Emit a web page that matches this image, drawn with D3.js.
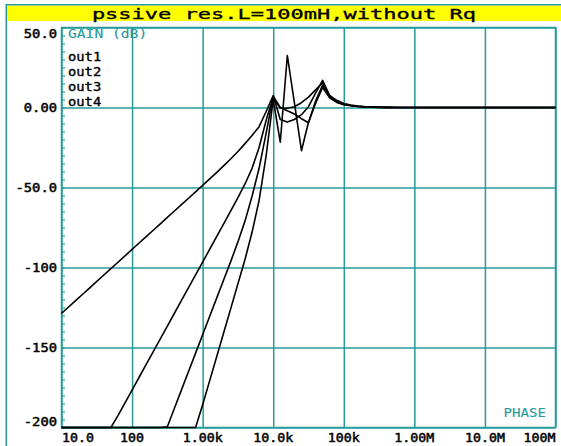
<!DOCTYPE html>
<html>
<head>
<meta charset="utf-8">
<script src="https://cdn.jsdelivr.net/npm/d3@7"></script>
<style>
  html, body { margin: 0; padding: 0; background: #fff; }
  svg { display: block; }
  .plotter { font-family: "DejaVu Sans Mono", "Liberation Mono", monospace; }
</style>
</head>
<body>
<svg id="chart" width="561" height="446"></svg>
<script>
// AC sweep, 10 points per decade, 10 Hz .. 100 MHz
const freqs = [
  10, 12.59, 15.85, 19.95, 25.12, 31.62, 39.81, 50.12, 63.1, 79.43,
  100, 125.9, 158.5, 199.5, 251.2, 316.2, 398.1, 501.2, 631, 794.3,
  1e3, 1259, 1585, 1995, 2512, 3162, 3981, 5012, 6310, 7943,
  1e4, 12590, 15850, 19950, 25120, 31620, 39810, 50120, 63100, 79430,
  1e5, 125900, 158500, 199500, 251200, 316200, 398100, 501200, 631000, 794300,
  1e6, 1.259e6, 1.585e6, 1.995e6, 2.512e6, 3.162e6, 3.981e6, 5.012e6, 6.31e6, 7.943e6,
  1e7, 1.259e7, 1.585e7, 1.995e7, 2.512e7, 3.162e7, 3.981e7, 5.012e7, 6.31e7, 7.943e7,
  1e8
];

// Gain in dB at each node of the ladder
const out1 = [
  -128.7, -124.7, -120.7, -116.7, -112.7, -108.7, -104.7, -100.7, -96.7, -92.7,
  -88.7, -84.7, -80.7, -76.7, -72.7, -68.7, -64.7, -60.7, -56.7, -52.7,
  -48.7, -44.6, -40.5, -36.3, -32, -27.5, -22.6, -17.5, -12, -2.5,
  7.5, -7.5, -9, -7.5, -4.5, 0.5, 9, 17, 7.5, 4.5,
  2.5, 1.5, 0.9, 0.5, 0.3, 0.2, 0.1, 0.05, 0, 0,
  0, 0, 0, 0, 0, 0, 0, 0, 0, 0,
  0, 0, 0, 0, 0, 0, 0, 0, 0, 0,
  0
];
const out2 = [
  -200, -200, -200, -200, -200, -200, -200, -200, -192.6, -184.6,
  -176.6, -168.6, -160.6, -152.6, -144.6, -136.6, -128.6, -120.6, -112.6, -104.6,
  -96.6, -88.6, -80.6, -72.6, -64.5, -56.3, -47.8, -38, -25, -8,
  6.5, -0.5, -0.5, 0.5, 3, 6.5, 11, 15.5, 7, 4,
  2.2, 1.3, 0.8, 0.5, 0.3, 0.15, 0.1, 0, 0, 0,
  0, 0, 0, 0, 0, 0, 0, 0, 0, 0,
  0, 0, 0, 0, 0, 0, 0, 0, 0, 0,
  0
];
const out3 = [
  -200, -200, -200, -200, -200, -200, -200, -200, -200, -200,
  -200, -200, -200, -200, -200, -199.5, -188, -176.5, -165, -153.5,
  -142, -130.5, -119, -107.5, -96, -84, -71, -55.5, -38, -16,
  7, 0, -2, -4, -7, -9.5, 4, 14, 6.5, 3.5,
  2, 1.2, 0.7, 0.4, 0.25, 0.1, 0.05, 0, 0, 0,
  0, 0, 0, 0, 0, 0, 0, 0, 0, 0,
  0, 0, 0, 0, 0, 0, 0, 0, 0, 0,
  0
];
const out4 = [
  -200, -200, -200, -200, -200, -200, -200, -200, -200, -200,
  -200, -200, -200, -200, -200, -200, -200, -200, -200, -200,
  -185.8, -170.7, -155.6, -140.5, -125.4, -110.2, -95, -78, -58, -30,
  5, -21.7, 32.5, 3, -27, -9.2, 2.5, 12.5, 6, 3.2,
  1.8, 1.1, 0.6, 0.35, 0.2, 0.1, 0, 0, 0, 0,
  0, 0, 0, 0, 0, 0, 0, 0, 0, 0,
  0, 0, 0, 0, 0, 0, 0, 0, 0, 0,
  0
];

const seriesNames = ["out1", "out2", "out3", "out4"];
const seriesValues = [out1, out2, out3, out4];

const titleText = "pssive res.L=100mH,without Rq";
const yAxisTitle = "GAIN (dB)";
const cornerText = "PHASE";

const yTicks = [50, 0, -50, -100, -150, -200];
const yTickLabels = ["50.0", "0.00", "-50.0", "-100", "-150", "-200"];
const yMinorTicks = d3.range(-200, 50.001, 5);
const xTicks = [10, 100, 1e3, 1e4, 1e5, 1e6, 1e7, 1e8];
const xTickLabels = ["10.0", "100", "1.00k", "10.0k", "100k", "1.00M", "10.0M", "100M"];

// ---- layout ----
const W = 561, H = 446;
const teal = "#279a9a";
const plot = { left: 61.5, right: 555.5, top: 27.5, bottom: 427.5 };

const svg = d3.select("#chart");

const x = d3.scaleLog().domain([10, 1e8]).range([plot.left, plot.right]);
const y = d3.scaleLinear().domain([-200, 50]).range([plot.bottom, plot.top]).clamp(true);

// outer frame and title bar
svg.append("rect").attr("x", 0).attr("y", 0).attr("width", W).attr("height", H).attr("fill", "#fff");
svg.append("rect").attr("x", 7).attr("y", 5.5).attr("width", W - 7).attr("height", 15.5).attr("fill", "#ffff00");
svg.append("line").attr("x1", 6).attr("x2", W).attr("y1", 4.75).attr("y2", 4.75)
  .attr("stroke", teal).attr("stroke-width", 1.5);
svg.append("line").attr("x1", 6.25).attr("x2", 6.25).attr("y1", 4).attr("y2", H)
  .attr("stroke", teal).attr("stroke-width", 1.5);

// plotter-style text: glyphs stretched to a fixed character pitch,
// with a thin outline to give the pen-drawn stroke weight
function plotterText(g, str, px, py, pitch, size, anchor, fill, pen) {
  return g.append("text")
    .attr("class", "plotter")
    .attr("x", px).attr("y", py)
    .attr("font-size", size)
    .attr("text-anchor", anchor)
    .attr("fill", fill)
    .attr("stroke", fill)
    .attr("stroke-width", pen || 0)
    .attr("textLength", str.length * pitch)
    .attr("lengthAdjust", "spacingAndGlyphs")
    .text(str);
}

plotterText(svg, titleText, (7 + W) / 2, 18.6, 13.25, 13.5, "middle", "#000", 0.3);

// grid
const grid = svg.append("g");
grid.append("g")
  .attr("transform", `translate(0,${plot.bottom})`)
  .call(d3.axisBottom(x).tickValues(xTicks).tickSize(-(plot.bottom - plot.top)).tickFormat(""))
  .call(g => g.select(".domain").remove())
  .call(g => g.selectAll("line").attr("stroke", teal).attr("stroke-width", 1.5));
grid.append("g")
  .attr("transform", `translate(${plot.left},0)`)
  .call(d3.axisLeft(y).tickValues(yTicks).tickSize(-(plot.right - plot.left)).tickFormat(""))
  .call(g => g.select(".domain").remove())
  .call(g => g.selectAll("line").attr("stroke", teal).attr("stroke-width", 1.5));
// 5 dB minor ticks on the inside of the gain axis
grid.append("g")
  .attr("transform", `translate(${plot.left},0)`)
  .call(d3.axisLeft(y).tickValues(yMinorTicks).tickSize(-3.5).tickFormat(""))
  .call(g => g.select(".domain").remove())
  .call(g => g.selectAll("line").attr("stroke", teal).attr("stroke-width", 1.2));

svg.append("rect")
  .attr("x", plot.left).attr("y", plot.top)
  .attr("width", plot.right - plot.left).attr("height", plot.bottom - plot.top)
  .attr("fill", "none").attr("stroke", teal).attr("stroke-width", 1.5);

// tick labels
const labels = svg.append("g");
yTicks.forEach((v, i) => {
  const by = Math.max(plot.top + 10, Math.min(plot.bottom - 1.3, y(v) + 4.2));
  plotterText(labels, yTickLabels[i], plot.left - 4.5, by, 8.3, 11.5, "end", "#000", 0.45);
});
xTicks.forEach((v, i) => {
  const last = i === xTicks.length - 1;
  const anchor = i === 0 ? "start" : last ? "end" : "middle";
  const px = i === 0 ? plot.left + 0.5 : last ? plot.right : x(v);
  plotterText(labels, xTickLabels[i], px, 441.7, 8.0, 11.5, anchor, "#000", 0.45);
});

// axis caption and legend
plotterText(svg, yAxisTitle, 68, 38, 8.8, 11.5, "start", teal, 0.1);
plotterText(svg, cornerText, 546, 416.7, 8.5, 11.5, "end", teal, 0.1);
seriesNames.forEach((name, i) => {
  plotterText(svg, name, 68, 60.7 + i * 15, 8.3, 12, "start", "#000", 0.35);
});

// gain curves
const line = d3.line()
  .x((d, i) => x(freqs[i]))
  .y(d => y(d));

svg.append("g")
  .selectAll("path")
  .data(seriesValues)
  .join("path")
  .attr("d", line)
  .attr("fill", "none")
  .attr("stroke", "#000")
  .attr("stroke-width", 1.6)
  .attr("stroke-linejoin", "round");
</script>
</body>
</html>
